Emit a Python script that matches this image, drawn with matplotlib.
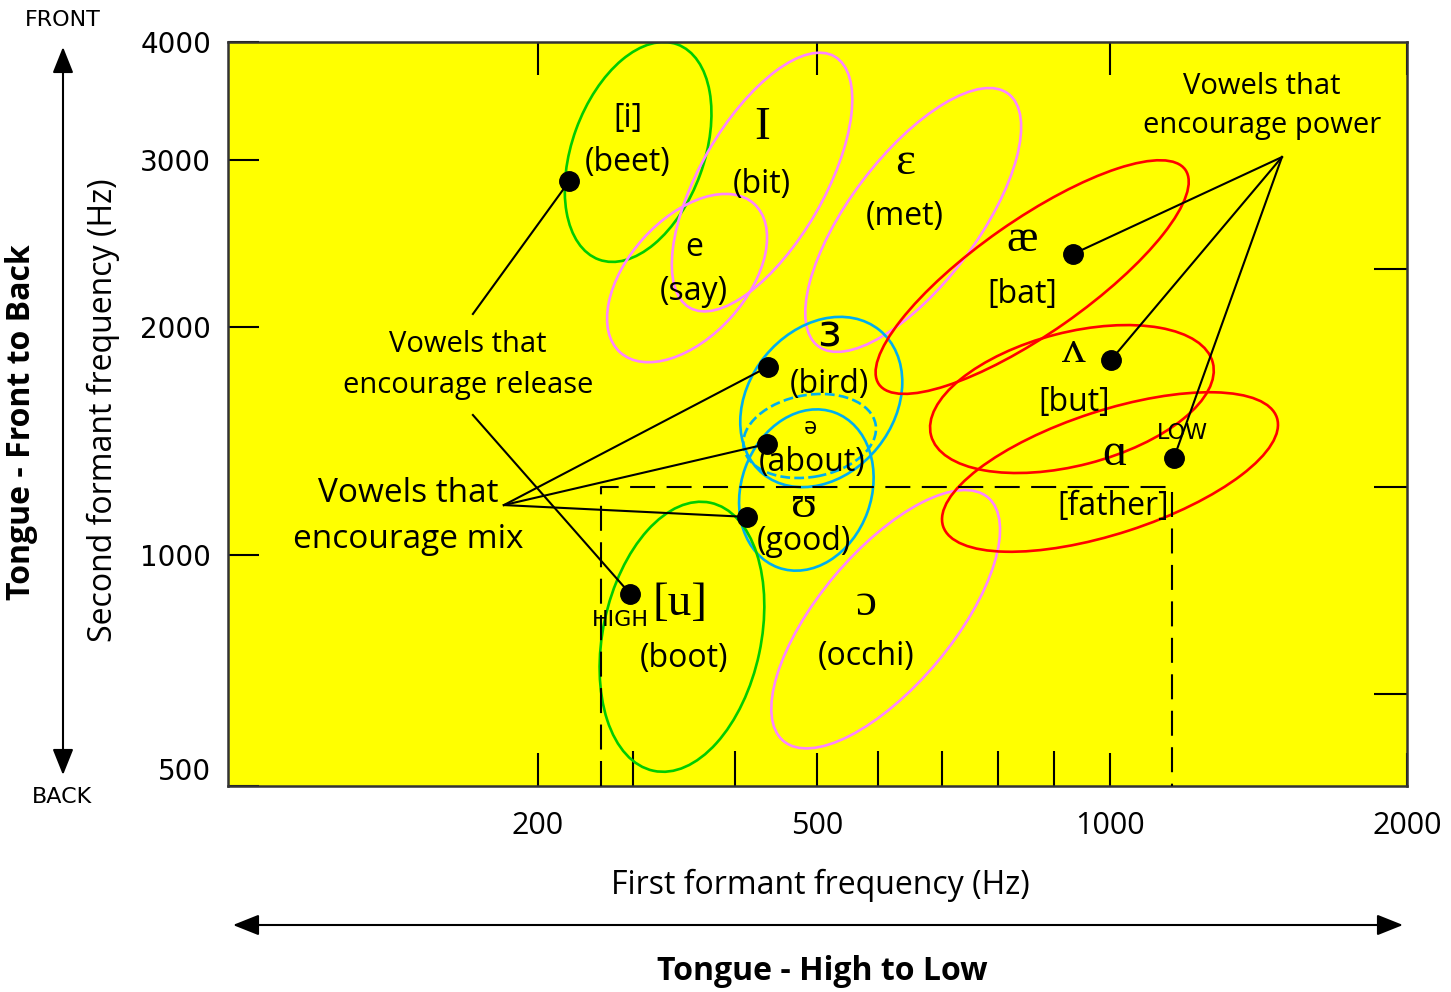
import numpy as np
import matplotlib
matplotlib.use("Agg")
import matplotlib.pyplot as plt
from matplotlib import transforms
from matplotlib.patches import Ellipse, FancyArrowPatch

plt.rcParams['font.family'] = ['Open Sans', 'DejaVu Sans']

# hand drawn axis calibration: Hz -> pixel distance from the axis origin
f1_hz = [100, 200, 300, 400, 500, 600, 700, 800, 900, 1000, 2000]
f1_px = [0, 310, 405, 507, 589, 650, 714, 770, 826, 882, 1179]
f2_hz = [500, 1000, 2000, 3000, 4000]
f2_px = [0, 231, 459, 626, 744]

x_ticks = [200, 500, 1000, 2000]
x_minor = [300, 400, 600, 700, 800, 900]
y_ticks = [500, 1000, 2000, 3000, 4000]
y_right = [700, 1300, 2350]

# vowel dots (F1, F2 in Hz)
dot_words = ['beet', 'bird', 'about', 'good', 'boot', 'bat', 'but', 'father']
dot_f1 = [233, 440, 439, 415, 297, 934, 1003, 1215]
dot_f2 = [2874, 1825, 1487, 1167, 916, 2437, 1855, 1425]

# vowel regions (ellipse centres in Hz)
region_words = ['beet', 'bit', 'met', 'say', 'bird', 'about', 'good', 'boot',
                'occhi', 'bat', 'but', 'father']
region_f1 = [305, 433, 655, 353, 507, 491, 487, 348, 612, 861, 932, 1000]
region_f2 = [3068, 2868, 2641, 2293, 1671, 1522, 1285, 823, 861, 2299, 1684, 1364]

# groups of vowels and where their leader lines start (Hz)
groups = {
    'release': (['beet', 'boot'], [(179, 2078), (179, 1614)]),
    'mix': (['bird', 'about', 'good'], [(189, 1219)] * 3),
    'power': (['bat', 'but', 'father'], [(1579, 3025)] * 3),
}

# dashed box F1 / F2 limits
box_f1 = [266, 1209]
box_f2 = 1298

# ---- styles ----
ell_w = [229, 290, 316, 200, 185, 134, 165, 274, 318, 374, 291, 351]
ell_h = [132, 124, 128, 118, 145, 82, 130, 158, 134, 113, 133, 123]
ell_a = [70, 60, 53, 48, 51, 10, 70, 78, 50, 35, 14.5, 18]
green, pink, blue, red = '#00cc00', '#ff85ff', '#00aeef', '#ff0000'
ell_c = [green, pink, pink, pink, blue, blue, blue, green, pink, red, red, red]
ell_ls = ['-'] * 5 + ['--'] + ['-'] * 6

W, H = 1451, 992
fig = plt.figure(figsize=(W / 100, H / 100), dpi=100)
ax = fig.add_axes([228 / W, 1 - 786 / H, 1179 / W, 744 / H])
ax.set_facecolor('#ffff00')

ax.set_xscale('function', functions=(lambda v: np.interp(v, f1_hz, f1_px),
                                      lambda p: np.interp(p, f1_px, f1_hz)))
ax.set_yscale('function', functions=(lambda v: np.interp(v, f2_hz, f2_px),
                                      lambda p: np.interp(p, f2_px, f2_hz)))
ax.set_xlim(100, 2000)
ax.set_ylim(500, 4000)

ax.set_xticks(x_ticks)
ax.set_xticklabels([str(t) for t in x_ticks])
ax.set_xticks(x_minor, minor=True)
ax.set_yticks(y_ticks)
ax.set_yticklabels([str(t) for t in y_ticks])
ax.set_yticks(y_right, minor=True)
ax.tick_params(axis='x', which='major', direction='in', length=24, width=1.5,
               top=True, bottom=True, labelsize=22, pad=18)
ax.tick_params(axis='x', which='minor', direction='in', length=25, width=1.5,
               top=False, bottom=True, labelbottom=False)
ax.tick_params(axis='y', which='major', direction='in', length=22, width=1.5,
               left=True, right=False, labelsize=20, pad=12)
ax.tick_params(axis='y', which='minor', direction='in', length=24, width=1.5,
               left=False, right=True, labelleft=False)
for lbl in ax.get_yticklabels():
    lbl.set_fontfamily('DejaVu Sans')
ax.get_yticklabels()[0].set_va('bottom')
for s in ax.spines.values():
    s.set_linewidth(1.8)
    s.set_color('#333333')

# vowel regions
for x, y, w, h, a, c, ls in zip(region_f1, region_f2, ell_w, ell_h, ell_a, ell_c, ell_ls):
    tr = fig.dpi_scale_trans + transforms.ScaledTranslation(x, y, ax.transData)
    ax.add_patch(Ellipse((0, 0), w / 100, h / 100, angle=a, transform=tr,
                         fill=False, ec=c, lw=1.9, ls=ls, zorder=2))

# dashed box
ax.plot([box_f1[0], box_f1[0], box_f1[1], box_f1[1]], [500, box_f2, box_f2, 500],
        color='black', lw=1.5, dashes=(12, 5.5), zorder=3)

# leader lines
for name, (words, starts) in groups.items():
    for wd, (sx, sy) in zip(words, starts):
        i = dot_words.index(wd)
        ax.plot([sx, dot_f1[i]], [sy, dot_f2[i]], color='black', lw=1.5, zorder=4)

ax.plot(dot_f1, dot_f2, 'o', color='black', ms=14, zorder=5)

# text in figure pixel positions
pix = transforms.Affine2D().scale(1 / W, -1 / H).translate(0, 1) + fig.transFigure


def t(x, y, s, size=23, **kw):
    fig.text(x, y, s, transform=pix, ha='center', va='center', fontsize=size, **kw)


serif = ['Liberation Serif', 'DejaVu Serif']
for s, x, y in [('[i]', 628, 119), ('(beet)', 628, 162), ('(bit)', 762, 185),
                ('(met)', 905, 217), ('e', 694, 247), ('(say)', 694, 291),
                ('[bat]', 1022, 294), ('(bird)', 829, 384),
                ('(about)', 812, 462), ('(good)', 804, 541), ('(boot)', 684, 658),
                ('(occhi)', 866, 657), ('[but]', 1074, 402), ('[father]', 1113, 507)]:
    t(x, y, s)
t(829, 335, 'ɜ', size=32)
t(810, 428, 'ə', size=17)
for s, x, y in [('I', 762, 128), ('ɛ', 905, 163), ('æ', 1022, 240), ('[u]', 680, 604),
                ('ʊ', 804, 506), ('ɔ', 866, 604), ('ʌ', 1074, 351), ('ɑ', 1115, 454)]:
    t(x, y, s, size=34, family=serif)
t(620, 620, 'HIGH', size=16, family='DejaVu Sans')
t(1182, 433, 'LOW', size=16, family='DejaVu Sans')

t(468, 345, 'Vowels that', size=21)
t(468, 385, 'encourage release', size=21)
t(408, 494, 'Vowels that', size=24)
t(408, 539, 'encourage mix', size=24)
t(1262, 86, 'Vowels that', size=21)
t(1262, 125, 'encourage power', size=21)

t(820, 885, 'First formant frequency (Hz)', size=23)
t(103, 410, 'Second formant frequency (Hz)', size=23, rotation=90)
t(822, 971, 'Tongue - High to Low', size=23, weight='bold')
t(22, 422, 'Tongue - Front to Back', size=23, weight='bold', rotation=90)
t(63, 20, 'FRONT', size=16, family='DejaVu Sans')
t(62, 797, 'BACK', size=16, family='DejaVu Sans')

for a, b in [((63, 47), (63, 775)), ((233, 925), (1403, 925))]:
    fig.add_artist(FancyArrowPatch(a, b, transform=pix, arrowstyle='<|-|>,head_length=1.0,head_width=0.4',
                                   mutation_scale=16, lw=1.5, color='black', shrinkA=0, shrinkB=0))

fig.savefig('out.png', dpi=100)
